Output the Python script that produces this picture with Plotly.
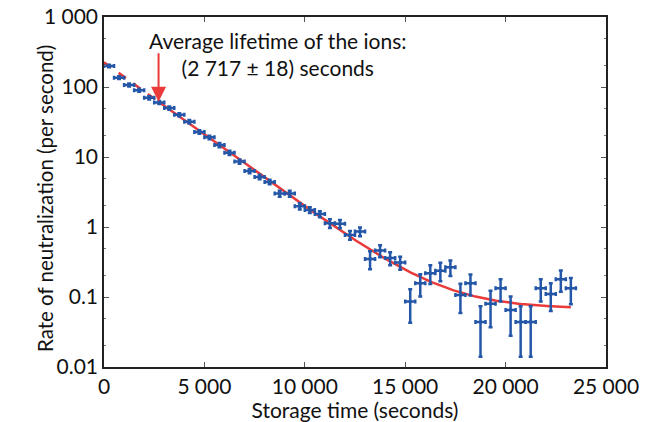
import numpy as np
import plotly.graph_objects as go

# Storage time bin centres (s) and measured neutralization rates (1/s)
storage_time = [250, 750, 1250, 1750, 2250, 2750, 3250, 3750, 4250, 4750,
                5250, 5750, 6250, 6750, 7250, 7750, 8250, 8750, 9250, 9750,
                10250, 10750, 11250, 11750, 12250, 12750, 13250, 13750, 14250, 14750,
                15250, 15750, 16250, 16750, 17250, 17750, 18250, 18750, 19250, 19750,
                20250, 20750, 21250, 21750, 22250, 22750, 23250]
rate = [200, 136, 107, 90, 70, 60, 50, 40, 32, 22.8,
        19.1, 14.8, 11.5, 8.6, 6.3, 5.2, 4.4, 3.0, 3.0, 1.98,
        1.75, 1.53, 1.13, 1.11, 0.77, 0.86, 0.35, 0.46, 0.36, 0.31,
        0.086, 0.157, 0.218, 0.238, 0.266, 0.107, 0.157, 0.044, 0.08, 0.133,
        0.065, 0.044, 0.044, 0.133, 0.110, 0.179, 0.133]
rate_err = [8, 6, 5, 4.5, 3.5, 3, 2.5, 2, 1.8, 1.3,
            1.1, 1.0, 0.8, 0.6, 0.45, 0.38, 0.32, 0.3, 0.3, 0.2,
            0.17, 0.15, 0.16, 0.15, 0.11, 0.12, 0.1, 0.09, 0.075, 0.065,
            0.043, 0.055, 0.065, 0.07, 0.067, 0.048, 0.052, 0.03, 0.043, 0.047,
            0.037, 0.03, 0.03, 0.047, 0.047, 0.06, 0.054]
bin_half_width = 250

# Fitted decay curve: amplitude * exp(-t / decay) + background
fit_amplitude = 225.0
fit_decay = 2100.0
fit_background = 0.068
lifetime = 2717
lifetime_err = 18
fit_end = 23250

y_ticks = [0.01, 0.1, 1, 10, 100, 1000]
y_ticktext = ["0.01", "0.1", "1", "10", "100", "1\u00a0000"]
x_ticks = [0, 5000, 10000, 15000, 20000, 25000]
x_ticktext = ["0", "5\u2005000", "10\u2005000", "15\u2005000", "20\u2005000", "25\u2005000"]

blue = "#2557a8"
red = "#ea3a3a"
font_family = "Lato, 'Open Sans', sans-serif"
text_color = "#111111"


def fit(t):
    return fit_amplitude * np.exp(-np.asarray(t) / fit_decay) + fit_background


t_dash = np.linspace(0, lifetime, 60)
t_solid = np.linspace(lifetime, fit_end, 300)

fig = go.Figure()
fig.add_trace(go.Scatter(
    x=t_dash, y=fit(t_dash), mode="lines",
    line=dict(color=red, width=2.5, dash="dash"), hoverinfo="skip"))
fig.add_trace(go.Scatter(
    x=t_solid, y=fit(t_solid), mode="lines",
    line=dict(color=red, width=2.5), hoverinfo="skip"))
fig.add_trace(go.Scatter(
    x=storage_time, y=rate, mode="markers",
    marker=dict(color=blue, size=3, symbol="square"),
    error_x=dict(type="constant", value=bin_half_width, color=blue,
                 thickness=2.5, width=2),
    error_y=dict(type="data", array=rate_err, color=blue,
                 thickness=2.5, width=2),
))

# Arrow marking the fitted lifetime on the curve
fig.add_annotation(
    x=lifetime, y=np.log10(fit(lifetime)), xref="x", yref="y",
    ax=0, ay=-50, axref="pixel", ayref="pixel",
    showarrow=True, arrowhead=2, arrowsize=1.5, arrowwidth=2,
    arrowcolor=red, text="")
fig.add_annotation(
    x=0.347, y=0.894, xref="paper", yref="paper", showarrow=False,
    xanchor="center", yanchor="middle",
    text=f"Average lifetime of the ions:<br>({lifetime // 1000}\u2005{lifetime % 1000} \u00b1 {lifetime_err}) seconds",
    align="center", font=dict(family=font_family, size=21, color=text_color))

# Vertical axis title
fig.add_annotation(
    x=-0.1175, y=0.48, xref="paper", yref="paper", showarrow=False,
    xanchor="center", yanchor="middle", textangle=-90,
    text="Rate of neutralization (per second)",
    font=dict(family=font_family, size=20.5, color=text_color))

axis_common = dict(
    showline=True, linecolor="#222222", linewidth=1.5, mirror="allticks",
    ticks="inside", ticklen=5, tickcolor="#555555",
    showgrid=False, zeroline=False, automargin=False,
    tickfont=dict(family=font_family, size=21, color=text_color),
)

fig.update_xaxes(
    range=[0, 25000], tickvals=x_ticks, ticktext=x_ticktext,
    title=dict(text="Storage time (seconds)", standoff=4,
               font=dict(family=font_family, size=21, color=text_color)),
    **axis_common)
fig.update_yaxes(
    type="log", range=[-2, 3], tickvals=y_ticks, ticktext=y_ticktext,
    minor=dict(ticks="inside", ticklen=2, tickcolor="#777777"),
    **axis_common)

fig.update_layout(
    width=662, height=422,
    margin=dict(l=104, r=56, t=17, b=55),
    paper_bgcolor="white", plot_bgcolor="white",
    showlegend=False,
)

fig.write_html("out.html")
